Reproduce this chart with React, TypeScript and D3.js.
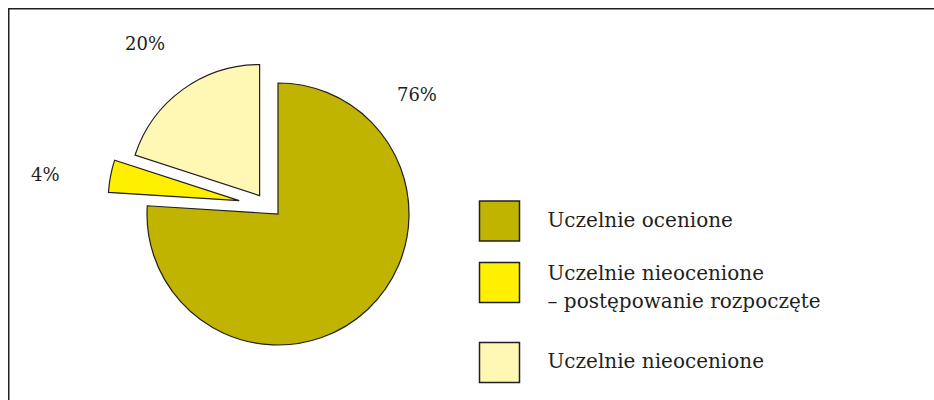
import React, { useEffect, useRef } from "react";
import * as d3 from "d3";

// --- data ---
const categories = [
  "Uczelnie ocenione",
  "Uczelnie nieocenione\n– postępowanie rozpoczęte",
  "Uczelnie nieocenione",
];
const values = [76, 4, 20];
const labels = ["76%", "4%", "20%"];

// --- styles ---
const colors = ["#c0b400", "#fff000", "#fff7b4"];
const ink = "#231f20";
// explosion of each slice: distance and direction (radians, clockwise from top)
const explode = [
  { dist: 0, angle: 0 },
  { dist: 41, angle: (289 / 180) * Math.PI },
  { dist: 26, angle: (315 / 180) * Math.PI },
];
// label anchors relative to pie centre (polar)
const labelPos = [
  { dist: 183, angle: (49.4 / 180) * Math.PI },
  { dist: 236, angle: (279.5 / 180) * Math.PI },
  { dist: 216, angle: (322 / 180) * Math.PI },
];
const legendY = [221, 282.5, 362.5];

export default function App() {
  const svgRef = useRef<SVGSVGElement | null>(null);

  useEffect(() => {
    const width = 934;
    const height = 400;
    const svg = d3.select(svgRef.current).attr("width", width).attr("height", height);
    svg.selectAll("*").remove();

    // frame (only top & left visible)
    svg.append("path")
      .attr("d", `M8.75,${height} L8.75,8.75 L${width},8.75`)
      .attr("fill", "none")
      .attr("stroke", ink)
      .attr("stroke-width", 1.5);

    const cx = 278, cy = 214, r = 131;
    const pie = d3.pie<number>().sort(null).startAngle(0).endAngle(2 * Math.PI);
    const arcs = pie(values);
    const arc = d3.arc<d3.PieArcDatum<number>>().innerRadius(0).outerRadius(r);

    const g = svg.append("g").attr("transform", `translate(${cx},${cy})`);

    g.selectAll("path.slice")
      .data(arcs)
      .join("path")
      .attr("class", "slice")
      .attr("d", arc)
      .attr("transform", (d, i) => {
        const e = explode[i];
        return `translate(${e.dist * Math.sin(e.angle)},${-e.dist * Math.cos(e.angle)})`;
      })
      .attr("fill", (d, i) => colors[i])
      .attr("stroke", ink)
      .attr("stroke-width", 1.2)
      .attr("stroke-linejoin", "miter");

    g.selectAll("text.pct")
      .data(labels)
      .join("text")
      .attr("class", "pct")
      .attr("x", (d, i) => labelPos[i].dist * Math.sin(labelPos[i].angle))
      .attr("y", (d, i) => -labelPos[i].dist * Math.cos(labelPos[i].angle))
      .attr("dy", "0.35em")
      .attr("text-anchor", "middle")
      .attr("font-family", "DejaVu Serif")
      .attr("font-size", 18)
      .attr("fill", ink)
      .text(d => d);

    // --- legend ---
    const leg = svg.append("g");
    const items = leg.selectAll("g.item")
      .data(categories)
      .join("g")
      .attr("class", "item")
      .attr("transform", (d, i) => `translate(479.5,${legendY[i]})`);

    items.append("rect")
      .attr("x", 0)
      .attr("y", -20)
      .attr("width", 40)
      .attr("height", 40)
      .attr("fill", (d, i) => colors[i])
      .attr("stroke", ink)
      .attr("stroke-width", 1.5);

    items.each(function (d) {
      const lines = d.split("\n");
      const t = d3.select(this).append("text")
        .attr("font-family", "DejaVu Serif")
        .attr("font-size", 20)
        .attr("fill", ink);
      const y0 = lines.length === 1 ? 5.5 : -2.5;
      lines.forEach((ln, j) => {
        t.append("tspan").attr("x", 68).attr("y", y0 + j * 28).text(ln);
      });
    });
  }, []);

  return <svg ref={svgRef} style={{ position: "absolute", left: 0, top: 0 }}></svg>;
}
